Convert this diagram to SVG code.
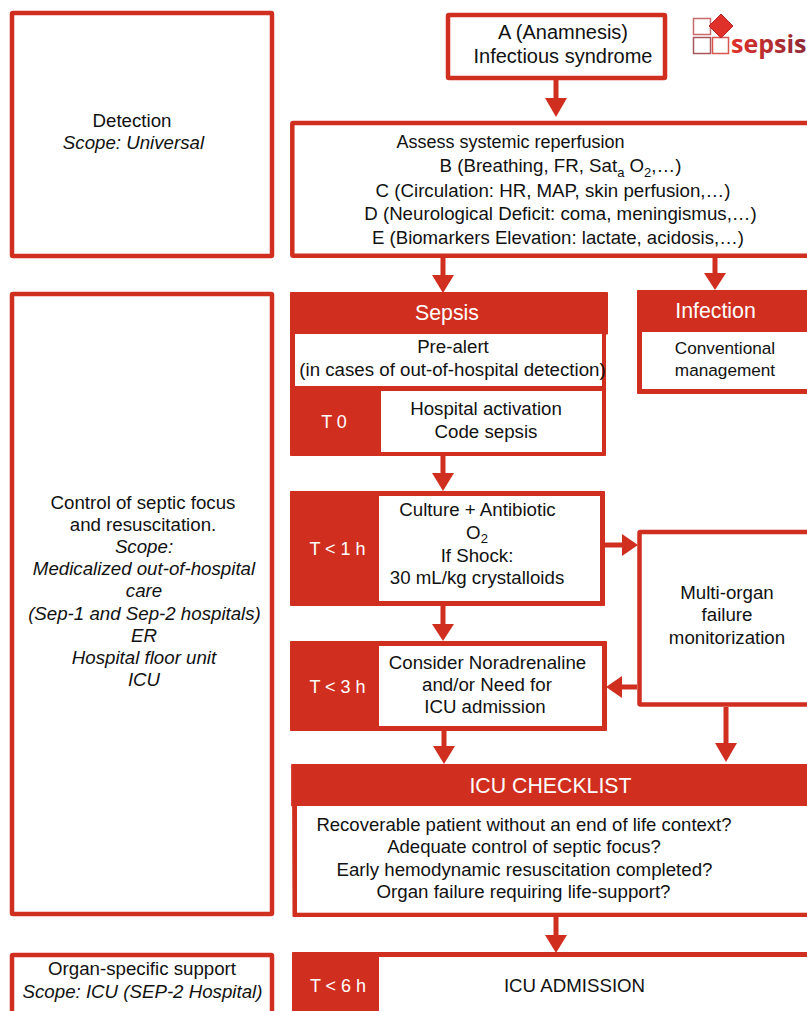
<svg xmlns="http://www.w3.org/2000/svg" width="807" height="1011" viewBox="0 0 807 1011">
<style>
text{font-family:"Liberation Sans",Arial,sans-serif;font-size:18.7px;fill:#111;text-anchor:middle}
.i{font-style:italic}
.box{fill:#fff;stroke:#d02f20;stroke-width:4.5}
.red{fill:#d02f20;stroke:#d02f20;stroke-width:1;stroke-linejoin:round}
.line{stroke:#d02f20;stroke-width:5;fill:none}
.h{fill:#d02f20}
.wt{fill:#fff}
.s{font-size:13px}
.t{font-size:21.3px;fill:#fff}
.m{font-size:18px;fill:#fff}
</style>
<defs>
<linearGradient id="lg" x1="0" x2="1" y1="0" y2="0"><stop offset="0" stop-color="#e0302a"/><stop offset="1" stop-color="#8e2a35"/></linearGradient>
</defs>
<rect width="807" height="1011" fill="#fff"/>
<g id="connectors">
<path class="line" d="M556 79V100"/><path class="h" d="M545 98h22l-11 19z"/>
<path class="line" d="M443 258V276"/><path class="h" d="M432 275h22l-11 18z"/>
<path class="line" d="M715 258V274"/><path class="h" d="M704 273h22l-11 17z"/>
<path class="line" d="M443 456V474"/><path class="h" d="M432 473h22l-11 18z"/>
<path class="line" d="M605 545H623"/><path class="h" d="M622 534v22l16-11z"/>
<path class="line" d="M443 606V626"/><path class="h" d="M432 624h22l-11 17z"/>
<path class="line" d="M637 687H620"/><path class="h" d="M622 676v22l-16-11z"/>
<path class="line" d="M444 731V748"/><path class="h" d="M433 746h22l-11 18z"/>
<path class="line" d="M726 707V746"/><path class="h" d="M715 743h22l-11 19z"/>
<path class="line" d="M556 916V937"/><path class="h" d="M545 935h22l-11 18z"/>
</g>
<g id="detection">
<rect class="box" x="12" y="13" width="260" height="243" rx="1"/>
<text x="132" y="127">Detection</text>
<text x="133.500" y="149" class="i">Scope: Universal</text>
</g>
<g id="control">
<rect class="box" x="12" y="294" width="260" height="620" rx="1"/>
<text x="143" y="509">Control of septic focus</text>
<text x="143" y="531">and resuscitation.</text>
<text x="144" y="553" class="i">Scope:</text>
<text x="144" y="575" class="i">Medicalized out-of-hospital</text>
<text x="144" y="597" class="i">care</text>
<text x="144.500" y="620" class="i">(Sep-1 and Sep-2 hospitals)</text>
<text x="144" y="642" class="i">ER</text>
<text x="144" y="664" class="i">Hospital floor unit</text>
<text x="144" y="686" class="i">ICU</text>
</g>
<g id="organ">
<rect class="box" x="12" y="955" width="260" height="70" rx="1"/>
<text x="142" y="975">Organ-specific support</text>
<text x="142.500" y="998" class="i">Scope: ICU (SEP-2 Hospital)</text>
</g>
<g id="anamnesis">
<rect class="box" x="448" y="15" width="217" height="63" rx="1"/>
<text x="563" y="39" style="font-size:20px">A (Anamnesis)</text>
<text x="563" y="63" style="font-size:20px">Infectious syndrome</text>
</g>
<g id="logo">
<g fill="none" stroke-width="1.500">
<rect x="693.500" y="18.500" width="17" height="16" stroke="#c96a6a"/>
<rect x="693.500" y="37.500" width="17" height="16" stroke="#a8575c"/>
<rect x="712.500" y="37.500" width="16" height="16" stroke="#d9534f"/>
</g>
<path d="M721 14l12 12-12 12-12-12z" fill="#e0302a" stroke="#b8282a"/>
<text x="731" y="53" style="font-family:'Open Sans','Liberation Sans',sans-serif;font-size:25px;font-weight:700;text-anchor:start;fill:url(#lg)">sepsis</text>
</g>
<g id="assess">
<rect class="box" x="292.300" y="123" width="530" height="132.800" rx="1"/>
<text x="510.500" y="148" style="font-size:18px">Assess systemic reperfusion</text>
<text x="560.500" y="172">B (Breathing, FR, Sat<tspan class="s" dy="5">a</tspan><tspan dy="-5"> O</tspan><tspan class="s" dy="5">2</tspan><tspan dy="-5">,…)</tspan></text>
<text x="553" y="197">C (Circulation: HR, MAP, skin perfusion,…)</text>
<text x="560.500" y="220">D (Neurological Deficit: coma, meningismus,…)</text>
<text x="558" y="244" style="font-size:18.600px">E (Biomarkers Elevation: lactate, acidosis,…)</text>
</g>
<g id="sepsis">
<path class="red" d="M290.500 292.500H607.500V334H605.500V455.500H290.500Z"/>
<rect class="wt" x="295" y="334" width="307" height="52"/>
<rect class="wt" x="381" y="391" width="221" height="61"/>
<text x="447" y="320" class="t">Sepsis</text>
<text x="453" y="353">Pre-alert</text>
<text x="452.500" y="376">(in cases of out-of-hospital detection)</text>
<text x="334" y="428" class="m">T 0</text>
<text x="486" y="415">Hospital activation</text>
<text x="486" y="438">Code sepsis</text>
</g>
<g id="infection">
<path class="red" d="M637.500 290.500H815V393.500H637.500Z"/>
<rect class="wt" x="642" y="332" width="173" height="57"/>
<text x="715.500" y="318" class="t">Infection</text>
<text x="725" y="354" style="font-size:17.200px">Conventional</text>
<text x="725" y="376" style="font-size:17.200px">management</text>
</g>
<g id="t1">
<path class="red" d="M290.500 491.500H604.500V605.500H290.500Z"/>
<rect class="wt" x="379" y="496" width="221" height="105"/>
<text x="337.500" y="555" class="m">T &lt; 1 h</text>
<text x="477.500" y="516">Culture + Antibiotic</text>
<text x="477" y="538.500">O<tspan class="s" dy="4">2</tspan></text>
<text x="477" y="562">If Shock:</text>
<text x="477" y="584">30 mL/kg crystalloids</text>
</g>
<g id="monitor">
<rect class="box" x="639.500" y="532" width="180" height="172.500" rx="1"/>
<text x="727" y="599">Multi-organ</text>
<text x="727" y="621">failure</text>
<text x="727" y="644">monitorization</text>
</g>
<g id="t3">
<path class="red" d="M290.500 641.500H606.500V730.500H290.500Z"/>
<rect class="wt" x="379" y="646" width="223" height="80"/>
<text x="337.500" y="693" class="m">T &lt; 3 h</text>
<text x="487.500" y="669">Consider Noradrenaline</text>
<text x="487" y="691">and/or Need for</text>
<text x="485" y="713">ICU admission</text>
</g>
<g id="checklist">
<path class="red" d="M291.700 764.500H820V916.500H293L292.700 806H291.700Z"/>
<rect class="wt" x="297" y="806" width="523" height="106.700"/>
<text x="550.500" y="793" class="t">ICU CHECKLIST</text>
<text x="524" y="831" style="font-size:18.550px">Recoverable patient without an end of life context?</text>
<text x="524" y="853" style="font-size:18.500px">Adequate control of septic focus?</text>
<text x="524.500" y="876">Early hemodynamic resuscitation completed?</text>
<text x="523.500" y="898">Organ failure requiring life-support?</text>
</g>
<g id="admission">
<path class="red" d="M292.500 952.500H820V1020H292.500Z"/>
<rect class="wt" x="379" y="957" width="441" height="60"/>
<text x="338" y="992" class="m">T &lt; 6 h</text>
<text x="574.500" y="992">ICU ADMISSION</text>
</g>
</svg>
